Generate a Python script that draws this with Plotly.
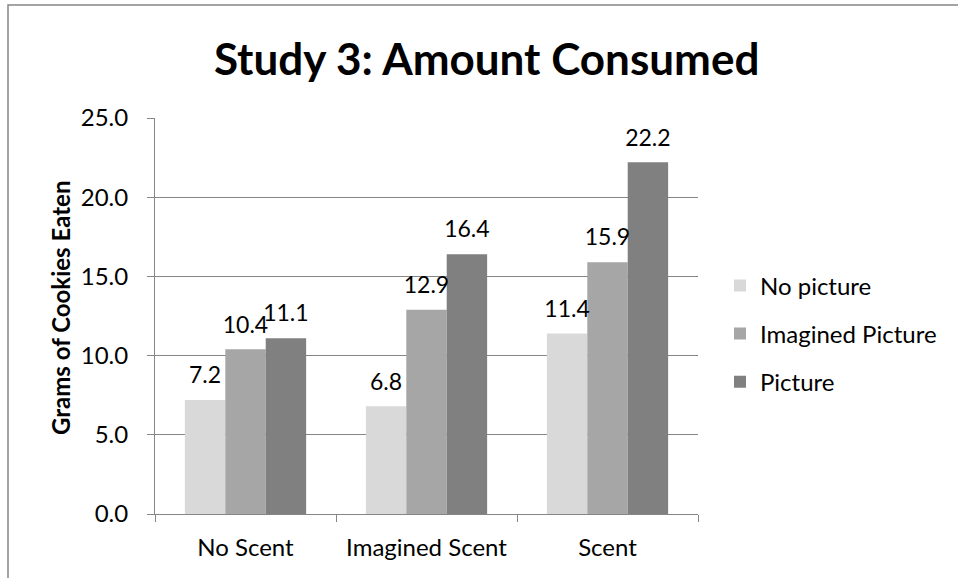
import plotly.graph_objects as go

categories = ["No Scent", "Imagined Scent", "Scent"]
series_names = ["No picture", "Imagined Picture", "Picture"]
no_picture = [7.2, 6.8, 11.4]
imagined_picture = [10.4, 12.9, 15.9]
picture = [11.1, 16.4, 22.2]
colors = ["#d9d9d9", "#a6a6a6", "#808080"]
y_ticks = [0, 5, 10, 15, 20, 25]
y_tick_labels = ["0.0", "5.0", "10.0", "15.0", "20.0", "25.0"]
y_title = "Grams of Cookies Eaten"
chart_title = "Study 3: Amount Consumed"

FONT = "Lato, Calibri, Carlito, sans-serif"

fig = go.Figure()
all_series = [no_picture, imagined_picture, picture]
for i, (name, vals) in enumerate(zip(series_names, all_series)):
    fig.add_trace(go.Bar(
        x=categories, y=vals, name=name,
        marker=dict(color=colors[i], line=dict(width=0)),
        offsetgroup=str(i), legendgroup=f"g{i}",
    ))
# data labels as grouped text scatter aligned with the bars
for i, (name, vals) in enumerate(zip(series_names, all_series)):
    fig.add_trace(go.Scatter(
        x=categories, y=vals, mode="markers+text",
        marker=dict(size=16, color="rgba(0,0,0,0)"),
        text=[f"{v:.1f}" for v in vals], textposition="top center",
        textfont=dict(family=FONT, size=23, color="#000000"),
        offsetgroup=str(i), showlegend=False, hoverinfo="skip",
        cliponaxis=False,
    ))

fig.update_layout(
    width=958, height=578,
    margin=dict(l=155, r=260, t=118, b=64),
    paper_bgcolor="white", plot_bgcolor="white",
    barmode="group", bargap=0.33, bargroupgap=0,
    scattermode="group", scattergap=0.33,
    title=dict(text=f"<b>{chart_title}</b>", x=0.508, xanchor="center",
               y=0.897, yanchor="middle",
               font=dict(family=FONT, size=44, color="#000000")),
    font=dict(family=FONT, color="#000000"),
    legend=dict(x=1.0405, xanchor="left", y=0.455, yanchor="middle",
                font=dict(family=FONT, size=24, color="#000000"),
                tracegroupgap=14, itemwidth=30),
    showlegend=True,
)

fig.update_yaxes(
    range=[0, 25], tickvals=y_ticks, ticktext=y_tick_labels,
    showgrid=True, gridcolor="#868686", gridwidth=1,
    showline=True, linecolor="#868686", linewidth=1,
    ticks="outside", ticklen=7, tickcolor="#868686",
    ticklabelstandoff=14,
    tickfont=dict(family=FONT, size=24, color="#000000"),
    zeroline=False,
)
fig.update_xaxes(
    showline=True, linecolor="#868686", linewidth=1,
    ticks="outside", ticklen=7, tickcolor="#868686", tickson="boundaries",
    ticklabelstandoff=12,
    tickfont=dict(family=FONT, size=24, color="#000000"),
    showgrid=False,
)

# y-axis title
fig.add_annotation(text=f"<b>{y_title}</b>", xref="paper", yref="paper",
                   x=(60 - 155) / 543, y=(514 - 308) / 396,
                   xanchor="center", yanchor="middle", textangle=-90,
                   showarrow=False, font=dict(family=FONT, size=24, color="#000000"))

# chart-area border (left and top edges visible)
fig.add_shape(type="rect", xref="paper", yref="paper",
              x0=(8 - 155) / 543, x1=(990 - 155) / 543,
              y0=(578 - 64 - 600) / 396, y1=(514 - 5) / 396,
              line=dict(color="#868686", width=1.5), fillcolor="rgba(0,0,0,0)", layer="below")

fig.write_html("out.html")
